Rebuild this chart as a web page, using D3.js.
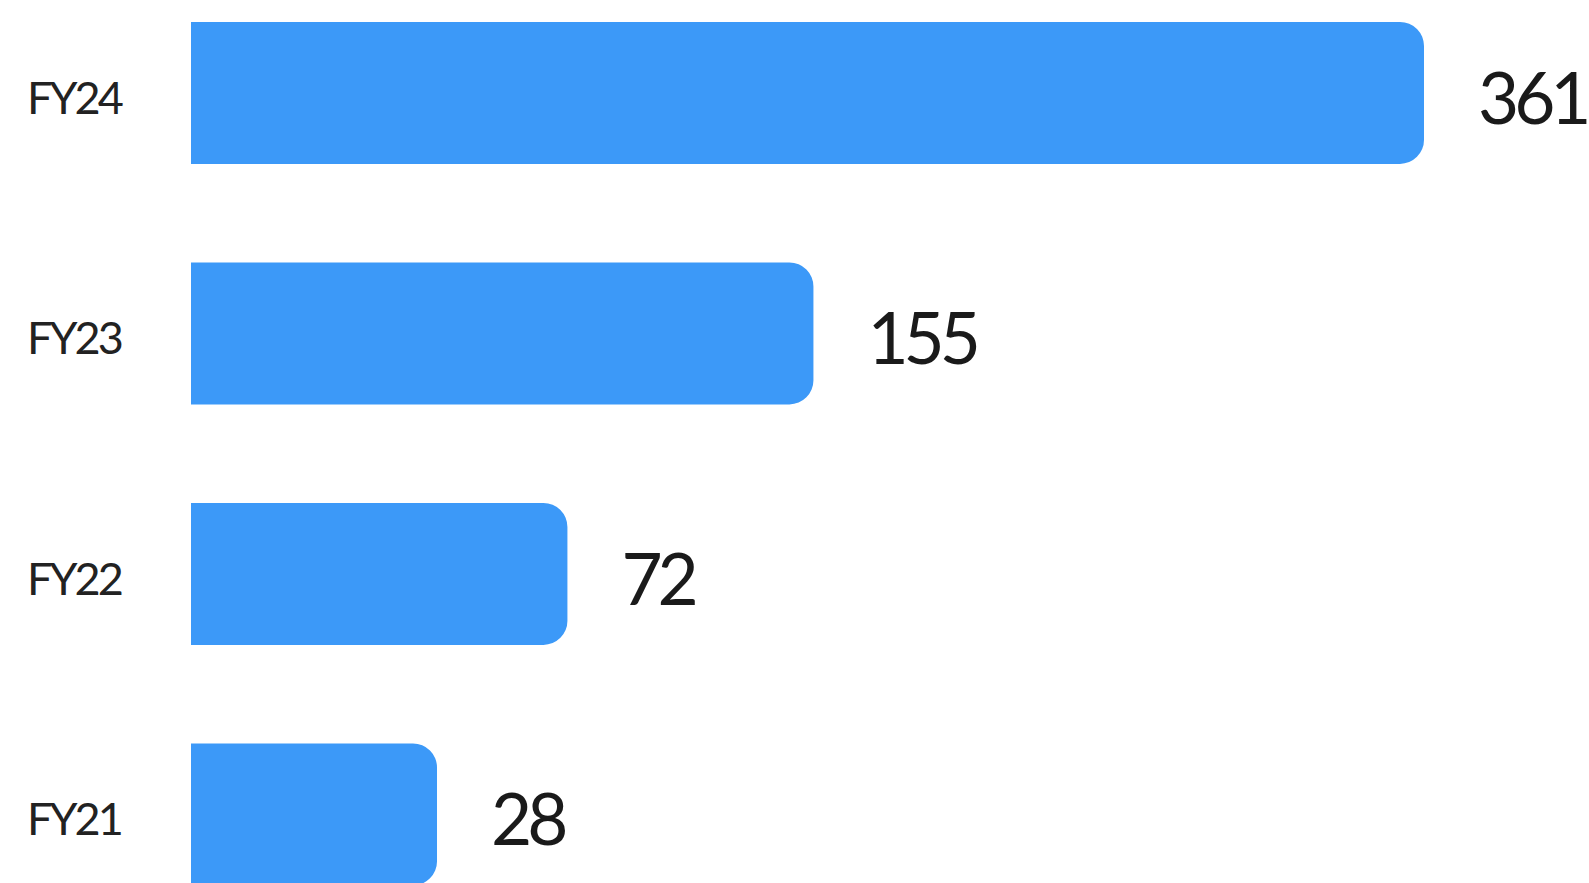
<!DOCTYPE html>
<html>
<head>
<meta charset="utf-8">
<script src="https://cdn.jsdelivr.net/npm/d3@7"></script>
<style>
  html, body { margin: 0; padding: 0; background: #fff; overflow: hidden; }
  svg { display: block; }
</style>
</head>
<body>
<svg id="chart" width="1589" height="883"></svg>
<script>
// Fiscal years, top to bottom, and their values
const categories = ["FY24", "FY23", "FY22", "FY21"];
const values = [361, 155, 72, 28];

const width = 1589, height = 883;
const svg = d3.select("#chart");

const barLeft = 191;
const x = d3.scaleLinear().domain([-55, 361]).range([barLeft, 1424]);
const y = d3.scaleBand()
  .domain(categories)
  .range([22, 885.4])
  .paddingInner(0.41)
  .paddingOuter(0);

const radius = 24;

// Bar with square left edge and rounded right corners
function barPath(x0, x1, y0, h, r) {
  const rr = Math.min(r, (x1 - x0) / 2, h / 2);
  return `M${x0},${y0}H${x1 - rr}A${rr},${rr} 0 0 1 ${x1},${y0 + rr}` +
         `V${y0 + h - rr}A${rr},${rr} 0 0 1 ${x1 - rr},${y0 + h}H${x0}Z`;
}

const data = categories.map((c, i) => ({ cat: c, value: values[i] }));

svg.append("g")
  .selectAll("path")
  .data(data)
  .join("path")
  .attr("d", d => barPath(x(-55), x(d.value), y(d.cat), y.bandwidth(), radius))
  .attr("fill", "#3c99f8");

// Category labels on the left
const yAxis = d3.axisLeft(y).tickSize(0).tickPadding(0);
const axisG = svg.append("g")
  .attr("transform", `translate(27,0)`)
  .call(yAxis);
axisG.select(".domain").remove();
axisG.selectAll("text")
  .attr("text-anchor", "start")
  .attr("x", 0)
  .attr("dy", null)
  .attr("y", 21)
  .attr("font-family", "Lato, sans-serif")
  .attr("font-size", 45)
  .attr("font-weight", 400)
  .attr("letter-spacing", -3)
  .attr("fill", "#222");

// Value labels at the end of each bar
svg.append("g")
  .selectAll("text")
  .data(data)
  .join("text")
  .attr("x", d => x(d.value) + 54)
  .attr("y", d => y(d.cat) + y.bandwidth() / 2 + 31)
  .attr("font-family", "Lato, sans-serif")
  .attr("font-size", 71)
  .attr("font-weight", 400)
  .attr("letter-spacing", -5)
  .attr("fill", "#1a1a1a")
  .text(d => d.value);
</script>
</body>
</html>
